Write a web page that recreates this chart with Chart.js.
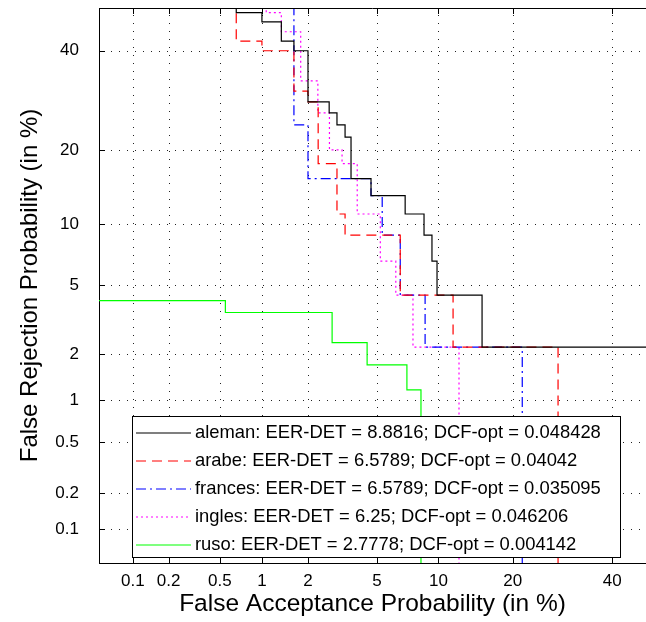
<!DOCTYPE html>
<html>
<head>
<meta charset="utf-8">
<script src="https://cdn.jsdelivr.net/npm/chart.js@4.4.1/dist/chart.umd.min.js"></script>
<style>
  html, body { margin: 0; padding: 0; background: #fff; overflow: hidden; }
  canvas { display: block; }
</style>
</head>
<body>
<canvas id="detChart" width="646" height="622"></canvas>
<script>
// tick labels (percent)
const faTicks = [0.1, 0.2, 0.5, 1, 2, 5, 10, 20, 40];
const frTicks = [0.1, 0.2, 0.5, 1, 2, 5, 10, 20, 40];

// DET curves (percent). each point = end of a horizontal run at level FR
const alemanFA = [0.66, 1.0, 1.35, 1.63, 2.0, 2.69, 2.99, 3.33, 3.6, 4.64, 6.96, 8.58, 9.34, 9.85, 15.3, 60];
const alemanFR = [60, 48.9, 46.7, 42.2, 40, 28.9, 26.7, 24.4, 22.2, 15.6, 13.3, 11.1, 8.9, 6.67, 4.44, 2.22];

const arabeFA = [0.66, 1.0, 1.63, 2.0, 2.31, 2.99, 3.33, 6.58, 11.6, 28.3, 28.3];
const arabeFR = [60, 42.2, 40, 31.1, 28.9, 17.8, 11.1, 8.9, 4.44, 2.22, 0.01];

const francesFA = [1.63, 2.0, 4.64, 5.32, 6.58, 8.68, 21.6, 21.6];
const francesFR = [60, 24.4, 15.6, 13.3, 8.9, 4.44, 2.22, 0.01];

const inglesFA = [1.07, 1.35, 1.8, 2.3, 2.7, 3.2, 3.9, 5.2, 6.25, 7.6, 12.3, 12.3];
const inglesFR = [60, 48.9, 44.4, 33.3, 26.7, 20, 17.8, 11.1, 6.67, 4.44, 2.22, 0.01];

const rusoFA = [0.01, 0.55, 2.8, 4.42, 7.1, 8.3, 8.3];
const rusoFR = [4.14, 4.14, 3.55, 2.36, 1.72, 1.18, 0.01];

const seriesNames = [
  "aleman: EER-DET = 8.8816; DCF-opt = 0.048428",
  "arabe: EER-DET = 6.5789; DCF-opt = 0.04042",
  "frances: EER-DET = 6.5789; DCF-opt = 0.035095",
  "ingles: EER-DET = 6.25; DCF-opt = 0.046206",
  "ruso: EER-DET = 2.7778; DCF-opt = 0.004142"
];

// inverse normal cdf (Acklam)
function probit(p) {
  const a = [-3.969683028665376e+01, 2.209460984245205e+02, -2.759285104469687e+02, 1.383577518672690e+02, -3.066479806614716e+01, 2.506628277459239e+00];
  const b = [-5.447609879822406e+01, 1.615858368580409e+02, -1.556989798598866e+02, 6.680131188771972e+01, -1.328068155288572e+01];
  const c = [-7.784894002430293e-03, -3.223964580411365e-01, -2.400758277161838e+00, -2.549732539343734e+00, 4.374664141464968e+00, 2.938163982698783e+00];
  const d = [7.784695709041462e-03, 3.224671290700398e-01, 2.445134137142996e+00, 3.754408661907416e+00];
  const pl = 0.02425;
  let q, r;
  if (p < pl) {
    q = Math.sqrt(-2 * Math.log(p));
    return (((((c[0]*q+c[1])*q+c[2])*q+c[3])*q+c[4])*q+c[5]) / ((((d[0]*q+d[1])*q+d[2])*q+d[3])*q+1);
  }
  if (p <= 1 - pl) {
    q = p - 0.5; r = q * q;
    return (((((a[0]*r+a[1])*r+a[2])*r+a[3])*r+a[4])*r+a[5])*q / (((((b[0]*r+b[1])*r+b[2])*r+b[3])*r+b[4])*r+1);
  }
  q = Math.sqrt(-2 * Math.log(1 - p));
  return -(((((c[0]*q+c[1])*q+c[2])*q+c[3])*q+c[4])*q+c[5]) / ((((d[0]*q+d[1])*q+d[2])*q+d[3])*q+1);
}

function toPoints(fa, fr) {
  return fa.map((v, i) => ({ x: probit(v / 100), y: probit(fr[i] / 100) }));
}

const FONT = "'Liberation Sans', Arial, sans-serif";

function curve(label, fa, fr, color, dash) {
  return {
    label: label,
    data: toPoints(fa, fr),
    borderColor: color,
    borderWidth: 1.2,
    borderDash: dash,
    pointRadius: 0,
    stepped: "after",
    fill: false
  };
}

// no extra room for the tick labels, the frame is fixed
function noPad(s) {
  s.paddingTop = 0; s.paddingBottom = 0; s.paddingLeft = 0; s.paddingRight = 0;
}

// dotted grid (matlab style), drawn at the scales' tick positions
const detGrid = {
  id: "detGrid",
  beforeDatasetsDraw(chart) {
    const ctx = chart.ctx;
    const a = chart.chartArea;
    const xs = chart.scales.x, ys = chart.scales.y;
    ctx.save();
    ctx.fillStyle = "#222";
    xs.ticks.forEach(t => {
      const px = Math.round(xs.getPixelForValue(t.value));
      for (let y = a.bottom - 4; y > a.top; y -= 8) ctx.fillRect(px, y, 1, 1);
    });
    ys.ticks.forEach(t => {
      const py = Math.round(ys.getPixelForValue(t.value));
      for (let x = a.left + 4; x < a.right; x += 8) ctx.fillRect(x, py, 1, 1);
    });
    ctx.restore();
  }
};

// frame, inward tick marks and the boxed legend
const detFrame = {
  id: "detFrame",
  afterDatasetsDraw(chart) {
    const ctx = chart.ctx;
    const a = chart.chartArea;
    const xs = chart.scales.x, ys = chart.scales.y;
    ctx.save();
    ctx.strokeStyle = "#000";
    ctx.lineWidth = 1;
    ctx.setLineDash([]);
    ctx.beginPath();
    ctx.moveTo(a.left, a.top + 0.5);
    ctx.lineTo(a.right, a.top + 0.5);
    xs.ticks.forEach(t => {
      const px = Math.round(xs.getPixelForValue(t.value)) + 0.5;
      ctx.moveTo(px, a.bottom); ctx.lineTo(px, a.bottom - 6);
      ctx.moveTo(px, a.top); ctx.lineTo(px, a.top + 6);
    });
    ys.ticks.forEach(t => {
      const py = Math.round(ys.getPixelForValue(t.value)) + 0.5;
      ctx.moveTo(a.left, py); ctx.lineTo(a.left + 6, py);
    });
    ctx.stroke();

    // legend box
    const bx = 132, by = 416, bw = 488, bh = 141;
    ctx.fillStyle = "#fff";
    ctx.fillRect(bx, by, bw, bh);
    ctx.strokeRect(bx + 0.5, by + 0.5, bw, bh);
    ctx.font = "18.4px " + FONT;
    ctx.textBaseline = "middle";
    ctx.textAlign = "left";
    chart.data.datasets.forEach((ds, i) => {
      const y = by + 17 + i * 28;
      ctx.beginPath();
      ctx.strokeStyle = ds.borderColor;
      ctx.lineWidth = 1.2;
      ctx.setLineDash(ds.borderDash || []);
      ctx.moveTo(136, y); ctx.lineTo(191, y);
      ctx.stroke();
      ctx.fillStyle = "#000";
      ctx.fillText(ds.label, 195, y);
    });
    ctx.restore();
  }
};

new Chart(document.getElementById("detChart"), {
  type: "line",
  data: {
    datasets: [
      curve(seriesNames[0], alemanFA, alemanFR, "#000000", []),
      curve(seriesNames[1], arabeFA, arabeFR, "#ff0000", [10, 6]),
      curve(seriesNames[2], francesFA, francesFR, "#0000ff", [10, 4, 2, 4]),
      curve(seriesNames[3], inglesFA, inglesFR, "#ff00ff", [2, 3]),
      curve(seriesNames[4], rusoFA, rusoFR, "#00ff00", [])
    ]
  },
  options: {
    responsive: false,
    animation: false,
    layout: { autoPadding: false, padding: { top: 8, right: 0, left: 0, bottom: 0 } },
    plugins: {
      legend: { display: false },
      tooltip: { enabled: false }
    },
    scales: {
      x: {
        type: "linear",
        min: probit(0.0005),
        max: -0.0535,
        afterBuildTicks: s => { s.ticks = faTicks.map(v => ({ value: probit(v / 100) })); },
        afterFit: s => { s.height = 59; noPad(s); },
        ticks: {
          autoSkip: false,
          maxRotation: 0,
          padding: 8,
          color: "#000",
          font: { family: FONT, size: 17 },
          callback: (v, i) => String(faTicks[i])
        },
        grid: { display: false, drawTicks: false },
        border: { display: true, color: "#000", width: 1 },
        title: {
          display: true,
          text: "False Acceptance Probability (in %)",
          color: "#000",
          font: { family: FONT, size: 24.5 },
          padding: { top: 3.4, bottom: 3.4 }
        }
      },
      y: {
        type: "linear",
        min: probit(0.0005),
        max: 0,
        afterBuildTicks: s => { s.ticks = frTicks.map(v => ({ value: probit(v / 100) })); },
        afterFit: s => { s.width = 99; noPad(s); },
        ticks: {
          autoSkip: false,
          padding: 20,
          color: "#000",
          font: { family: FONT, size: 17 },
          callback: (v, i) => String(frTicks[i])
        },
        grid: { display: false, drawTicks: false },
        border: { display: true, color: "#000", width: 1 },
        title: {
          display: true,
          text: "False Rejection Probability (in %)",
          color: "#000",
          font: { family: FONT, size: 24 },
          padding: { top: 15.6, bottom: 15.6 }
        }
      }
    }
  },
  plugins: [detGrid, detFrame]
});
</script>
</body>
</html>
